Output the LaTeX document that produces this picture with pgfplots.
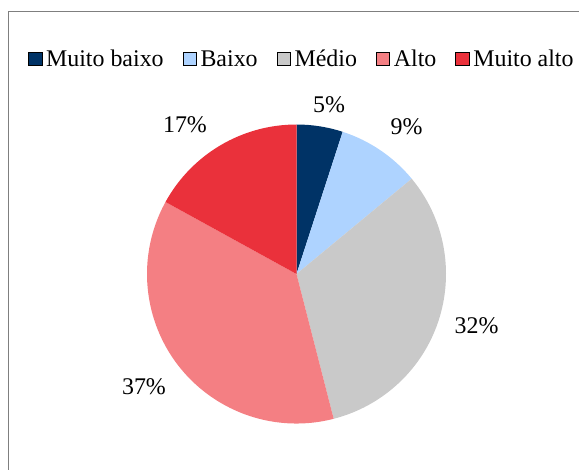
\documentclass[border=0pt]{standalone}
\usepackage{pgfplots}
\pgfplotsset{compat=1.18}
\usepackage{pgfplotstable}
\usepackage{fontspec}
\setmainfont{Liberation Serif}
\definecolor{cMB}{HTML}{003366}
\definecolor{cB}{HTML}{AED3FF}
\definecolor{cM}{HTML}{C9C9C9}
\definecolor{cA}{HTML}{F47F83}
\definecolor{cMA}{HTML}{EA313B}
\definecolor{frame}{HTML}{7F7F7F}
% value, colour, label centre (x, y in picture units)
\pgfplotstableread{
value color lx ly
5 cMB 329 365
9 cB 406.5 343
32 cM 476.5 144
37 cA 144 83.5
17 cMA 185 345
}\piedata
\begin{document}
\begin{tikzpicture}[font=\fontsize{24}{28}\selectfont]
\begin{axis}[
  hide axis, scale only axis,
  width=579bp, height=470bp,
  xmin=0, xmax=579, ymin=0, ymax=470,
  legend columns=5,
  legend image code/.code={\fill[#1] (0bp,-7bp) rectangle (13.5bp,6.5bp);},
  legend style={draw=none, fill=none, inner sep=0pt, at={(28/579,411.5/470)}, anchor=west,
    font=\fontsize{24}{28}\selectfont,
    nodes={inner sep=0pt, text height=16.4bp, text depth=0bp},
    column sep=4bp,
    /tikz/every even column/.append style={column sep=19bp}},
]
\draw[frame, line width=1bp] (axis cs:8.5,-20) -- (axis cs:8.5,458) -- (axis cs:700,458);
\def\cum{0}
\pgfplotsforeachungrouped \i in {0,...,4}{%
  \pgfplotstablegetelem{\i}{value}\of\piedata \let\v\pgfplotsretval
  \pgfplotstablegetelem{\i}{color}\of\piedata \let\c\pgfplotsretval
  \pgfplotstablegetelem{\i}{lx}\of\piedata \let\lx\pgfplotsretval
  \pgfplotstablegetelem{\i}{ly}\of\piedata \let\ly\pgfplotsretval
  \pgfmathsetmacro\a{90-3.6*\cum}%
  \pgfmathsetmacro\b{90-3.6*(\cum+\v)}%
  \pgfmathsetmacro\xa{296.5+149.5*cos(\a)}%
  \pgfmathsetmacro\ya{196+149.5*sin(\a)}%
  \edef\temp{\noexpand\fill[\c] (axis cs:296.5,196) -- (axis cs:\xa,\ya) arc[start angle=\a, end angle=\b, radius=149.5bp] -- cycle;
    \noexpand\node[inner sep=0pt] at (axis cs:\lx,\ly) {\v\noexpand\%};}%
  \temp
  \pgfmathsetmacro\cum{\cum+\v}%
}
\addlegendimage{fill=cMB}
\addlegendimage{fill=cB}
\addlegendimage{fill=cM}
\addlegendimage{fill=cA}
\addlegendimage{fill=cMA}
\legend{Muito baixo, Baixo, Médio, Alto, Muito alto}
\end{axis}
\pgfresetboundingbox
\path (0,0) rectangle (579bp,470bp);
\end{tikzpicture}
\end{document}
